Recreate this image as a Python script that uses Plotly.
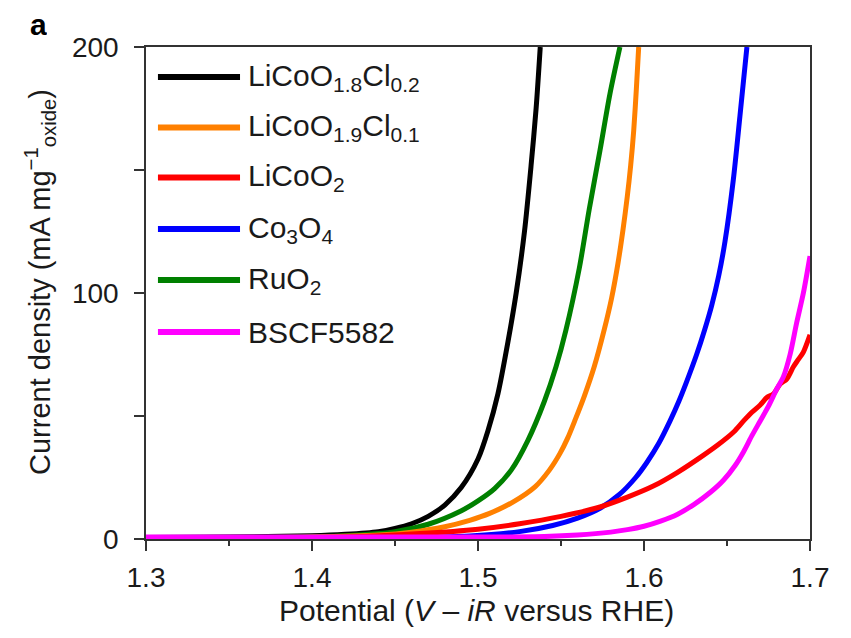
import plotly.graph_objects as go

# ---------------- data ----------------
series_names = [
    "LiCoO<sub>1.8</sub>Cl<sub>0.2</sub>",
    "LiCoO<sub>1.9</sub>Cl<sub>0.1</sub>",
    "LiCoO<sub>2</sub>",
    "Co<sub>3</sub>O<sub>4</sub>",
    "RuO<sub>2</sub>",
    "BSCF5582",
]
series_colors = ["#000000", "#FF8000", "#FF0000", "#0000FF", "#008000", "#FF00FF"]

v_licoo18cl02 = [1.30, 1.35, 1.40, 1.42, 1.44, 1.45, 1.46, 1.47, 1.48, 1.49, 1.50, 1.506, 1.512, 1.518, 1.523, 1.528, 1.532, 1.535, 1.5375]
j_licoo18cl02 = [0.6, 0.8, 1.3, 1.9, 3.0, 4.3, 6.2, 9.2, 13.8, 21, 32.5, 44, 59, 80, 100, 125, 152, 175, 200]

v_licoo19cl01 = [1.30, 1.40, 1.44, 1.46, 1.48, 1.495, 1.507, 1.521, 1.5345, 1.543, 1.5494, 1.554, 1.5585, 1.564, 1.570, 1.576, 1.5805, 1.5843, 1.5874, 1.5899, 1.592, 1.5938, 1.5954, 1.5968]
j_licoo19cl01 = [0.5, 0.8, 1.6, 2.8, 5.0, 7.6, 10.4, 15, 21.3, 28, 34.8, 41, 48.4, 58, 70, 85, 98, 112, 126, 139, 152, 166, 183, 200]

v_licoo2 = [1.30, 1.42, 1.465, 1.50, 1.525, 1.55, 1.5735, 1.59, 1.6056, 1.62, 1.6357, 1.645, 1.654, 1.66, 1.665, 1.67, 1.674, 1.678, 1.682, 1.686, 1.69, 1.693, 1.696, 1.70]
j_licoo2 = [0.3, 0.8, 2.2, 4.0, 6.2, 9.2, 13, 17, 21.5, 27, 34, 38.5, 43.5, 48, 51.5, 54.5, 57.5, 59, 63, 65, 70, 73, 76, 83]

v_co3o4 = [1.30, 1.45, 1.495, 1.525, 1.545, 1.56, 1.5735, 1.585, 1.595, 1.6016, 1.609, 1.6157, 1.621, 1.6257, 1.6317, 1.6365, 1.6408, 1.645, 1.6488, 1.6538, 1.6578, 1.662]
j_co3o4 = [0.3, 0.5, 1.2, 3.0, 5.5, 8.5, 12.5, 18, 25, 31, 39, 48, 56, 64, 75, 85, 95, 107, 121, 146, 172, 200]

v_ruo2 = [1.30, 1.38, 1.42, 1.44, 1.45, 1.47, 1.49, 1.50, 1.51, 1.52, 1.53, 1.54, 1.547, 1.553, 1.561, 1.567, 1.5735, 1.5795, 1.5855]
j_ruo2 = [0.5, 0.7, 1.3, 2.2, 3.0, 6.0, 11.5, 15.5, 20.5, 28, 40, 56, 70, 85, 110, 134, 158, 181, 200]

v_bscf = [1.30, 1.50, 1.54, 1.56, 1.58, 1.59, 1.60, 1.61, 1.62, 1.63, 1.64, 1.648, 1.655, 1.66, 1.665, 1.67, 1.675, 1.68, 1.684, 1.688, 1.692, 1.696, 1.70]
j_bscf = [0.8, 0.8, 1.0, 1.6, 2.8, 3.8, 5.2, 7.3, 10, 14, 19, 24, 30, 35.5, 42, 48, 54, 61, 66, 75, 88, 100, 115]

x_tick_vals = [1.3, 1.4, 1.5, 1.6, 1.7]
x_tick_text = ["1.3", "1.4", "1.5", "1.6", "1.7"]
x_minor_vals = [1.35, 1.45, 1.55, 1.65]
y_tick_vals = [0, 50, 100, 150, 200]
y_tick_text = ["0", "", "100", "", "200"]

x_title = "Potential (<i>V</i> – <i>iR</i> versus RHE)"
y_title = "Current density (mA mg<sup>−1</sup><sub>oxide</sub>)"
panel_label = "<b>a</b>"

# drawing order (later on top)
draw_order = [0, 4, 1, 3, 2, 5]
all_v = [v_licoo18cl02, v_licoo19cl01, v_licoo2, v_co3o4, v_ruo2, v_bscf]
all_j = [j_licoo18cl02, j_licoo19cl01, j_licoo2, j_co3o4, j_ruo2, j_bscf]

FONT = "Liberation Sans, Arial, Helvetica, sans-serif"
TXT = "#1a1a1a"
fig = go.Figure()
for i in draw_order:
    fig.add_trace(go.Scatter(
        x=all_v[i], y=all_j[i], mode="lines", name=series_names[i],
        line=dict(color=series_colors[i], width=5, shape="spline", smoothing=0.8),
        showlegend=False,
    ))

# custom legend (long line samples as in the reference)
leg_rows = [0.939, 0.8364, 0.7348, 0.630, 0.5264, 0.4207]
for i, name in enumerate(series_names):
    yy = leg_rows[i]
    fig.add_shape(type="line", xref="paper", yref="paper",
                  x0=0.018, x1=0.1416, y0=yy, y1=yy,
                  line=dict(color=series_colors[i], width=6))
    fig.add_annotation(xref="paper", yref="paper", x=0.151, y=yy,
                       xanchor="left", yanchor="middle", showarrow=False,
                       text=name, font=dict(family=FONT, size=30, color=TXT))

fig.add_annotation(xref="paper", yref="paper", x=-0.162, y=1.046,
                   xanchor="center", yanchor="middle", showarrow=False,
                   height=24, valign="middle", borderpad=0,
                   text=panel_label, font=dict(family=FONT, size=30, color="#000000"))

# axis titles as annotations for precise placement
fig.add_annotation(xref="paper", yref="paper", x=0.497, y=-0.1463,
                   xanchor="center", yanchor="middle", showarrow=False,
                   text=x_title, font=dict(family=FONT, size=30, color=TXT))
fig.add_annotation(xref="paper", yref="paper", x=-0.1596, y=0.5224,
                   xanchor="center", yanchor="middle", showarrow=False, textangle=-90,
                   text=y_title, font=dict(family=FONT, size=29, color=TXT))

axis_common = dict(
    showline=True, linecolor="#333333", linewidth=1.5, mirror=True,
    ticks="outside", tickcolor="#333333", tickwidth=1.5, ticklen=10,
    showgrid=False, zeroline=False,
    tickfont=dict(family=FONT, size=28, color=TXT),
)
fig.update_xaxes(
    range=[1.3, 1.7], tickvals=x_tick_vals, ticktext=x_tick_text,
    minor=dict(tickvals=x_minor_vals, ticks="outside", ticklen=5,
               tickcolor="#333333", tickwidth=1.5),
    ticklabelstandoff=3,
    **axis_common,
)
fig.update_yaxes(
    range=[0, 200], tickvals=y_tick_vals, ticktext=y_tick_text,
    ticklabelstandoff=10,
    **axis_common,
)
# the page has an 8px body margin: plot area 146..810 x 47..539 on screen
fig.update_layout(
    width=851, height=638,
    margin=dict(l=138, r=49, t=39, b=107, autoexpand=False),
    paper_bgcolor="white", plot_bgcolor="white",
    showlegend=False,
)
fig.write_html("out.html")
